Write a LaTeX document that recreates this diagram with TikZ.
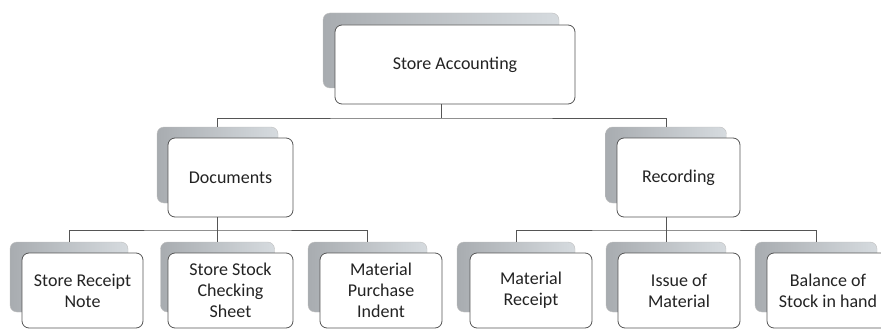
\documentclass[tikz,border=0pt]{standalone}
\usepackage{fontspec}
\setmainfont{Carlito}
\definecolor{backdark}{RGB}{168,172,176}
\definecolor{backlight}{RGB}{214,219,223}
\definecolor{edgegray}{RGB}{85,85,85}
\definecolor{inkgray}{RGB}{35,35,35}

\begin{document}
\begin{tikzpicture}[x=1pt,y=-1pt,
    card/.style={draw=edgegray,line width=0.8pt,fill=white,rounded corners=7pt,
        align=center,font=\fontsize{18}{21}\selectfont,text=inkgray,inner sep=0pt},
    backcard/.style={draw=gray!50,line width=0.4pt,left color=backdark,
        right color=backlight,rounded corners=7pt,inner sep=0pt},
    link/.style={draw=edgegray,line width=0.8pt}]
\useasboundingbox (0,0) rectangle (881,329);
% top level
\node[backcard,minimum width=236pt,minimum height=75pt] (accb) at (441,50.5) {};
\node[card,minimum width=240pt,minimum height=79pt] (acc) at (455,64.5) {Store Accounting};
% second level
\node[backcard,minimum width=121pt,minimum height=76pt] (docb) at (217.5,165) {};
\node[card,minimum width=125pt,minimum height=79pt] (doc) at (230.5,177.5) {Documents};
\node[backcard,minimum width=121pt,minimum height=76pt] (recb) at (666,165) {};
\node[card,minimum width=123pt,minimum height=79pt] (rec) at (678.5,177.5) {Recording};
% third level
\node[backcard,minimum width=118pt,minimum height=70pt] (srnb) at (69,277) {};
\node[card,minimum width=121pt,minimum height=75pt] (srn) at (82.5,290.5) {Store Receipt\\Note};
\node[backcard,minimum width=114pt,minimum height=70pt] (sscb) at (217.5,277) {};
\node[card,minimum width=125pt,minimum height=75pt] (ssc) at (230.5,290.5) {Store Stock\\Checking\\Sheet};
\node[backcard,minimum width=119pt,minimum height=70pt] (mpib) at (367.5,277) {};
\node[card,minimum width=122pt,minimum height=75pt] (mpi) at (381,290.5) {Material\\Purchase\\Indent};
\node[backcard,minimum width=118pt,minimum height=70pt] (mrb) at (516,277) {};
\node[card,minimum width=122pt,minimum height=75pt] (mr) at (531,290.5) {Material\\Receipt};
\node[backcard,minimum width=120pt,minimum height=70pt] (iomb) at (666,277) {};
\node[card,minimum width=122pt,minimum height=75pt] (iom) at (679,290.5) {Issue of\\Material};
\node[backcard,minimum width=122pt,minimum height=70pt] (bsb) at (816,277) {};
\node[card,minimum width=122pt,minimum height=75pt] (bs) at (828,290.5) {Balance of\\Stock in hand};
% connectors
\coordinate (bus1) at (441,118);
\coordinate (bus2) at (217.5,230);
\coordinate (bus3) at (666,230);
\draw[link] (accb |- acc.south) -- (bus1);
\draw[link] (docb.north) |- (bus1) -| (recb.north);
\draw[link] (docb |- doc.south) -- (bus2);
\draw[link] (srnb.north) |- (bus2) -| (mpib.north);
\draw[link] (bus2) -- (sscb.north);
\draw[link] (recb |- rec.south) -- (bus3);
\draw[link] (mrb.north) |- (bus3) -| (bsb.north);
\draw[link] (bus3) -- (iomb.north);
\end{tikzpicture}
\end{document}
